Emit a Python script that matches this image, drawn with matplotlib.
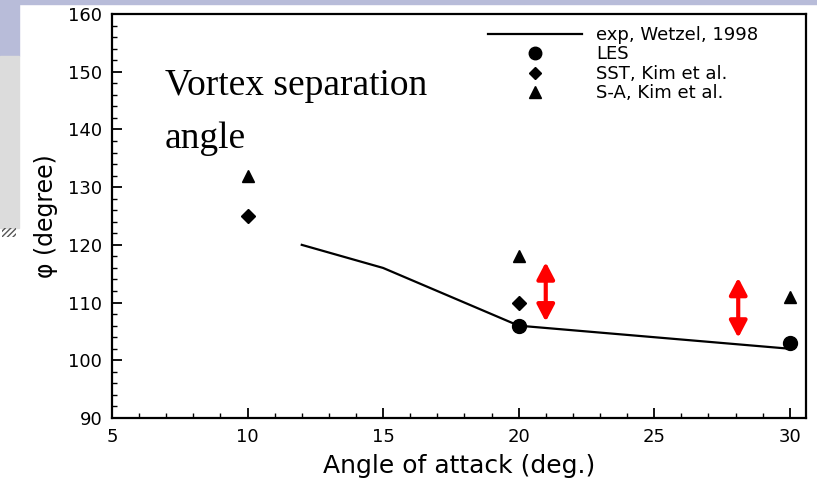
import matplotlib.pyplot as plt
from matplotlib.patches import Rectangle
from matplotlib.lines import Line2D
from matplotlib.ticker import MultipleLocator

# data
exp_aoa = [12, 15, 20, 30]
exp_phi = [120, 116, 106, 102]
les_aoa = [20, 30]
les_phi = [106, 103]
sst_aoa = [10, 20]
sst_phi = [125, 110]
sa_aoa = [10, 20, 30]
sa_phi = [132, 118, 111]
# red double arrows: x position, lower end, upper end
arrow_x = [21, 28.1]
arrow_lo = [106.7, 103.9]
arrow_hi = [117, 114.3]

W, H = 817, 480
fig = plt.figure(figsize=(W / 100, H / 100), dpi=100)
fig.patch.set_facecolor('white')

# slide background pieces around the chart
lav = '#b8bcd9'
fig.patches.append(Rectangle((0, 1 - 4 / H), 1, 4 / H, transform=fig.transFigure,
                             color=lav, zorder=0))
fig.patches.append(Rectangle((0, 1 - 56 / H), 19 / W, 56 / H, transform=fig.transFigure,
                             color=lav, zorder=0))
fig.patches.append(Rectangle((0, 1 - 228 / H), 19 / W, 172 / H, transform=fig.transFigure,
                             color='#dcdcdc', zorder=0))
fig.patches.append(Rectangle((2 / W, 1 - 237 / H), 14 / W, 9 / H, transform=fig.transFigure,
                             facecolor='none', edgecolor='#555555', hatch='//////',
                             lw=0, zorder=0))

ax = fig.add_axes([112 / W, 1 - 418 / H, (806 - 112) / W, (418 - 14) / H])

sans = 'DejaVu Sans'
ax.plot(exp_aoa, exp_phi, color='black', lw=1.6)
ax.plot(les_aoa, les_phi, 'o', color='black', ms=10, ls='none')
ax.plot(sst_aoa, sst_phi, 'D', color='black', ms=7.5, ls='none')
ax.plot(sa_aoa, sa_phi, '^', color='black', ms=9, ls='none')

for x, lo, hi in zip(arrow_x, arrow_lo, arrow_hi):
    ax.annotate('', xy=(x, hi), xytext=(x, lo),
                arrowprops=dict(arrowstyle='<|-|>,head_length=0.42,head_width=0.22',
                                color='red', lw=3.0, mutation_scale=24,
                                shrinkA=0, shrinkB=0))

ax.set_xlim(5, 30.6)
ax.set_ylim(90, 160)
ax.xaxis.set_major_locator(MultipleLocator(5))
ax.xaxis.set_minor_locator(MultipleLocator(1))
ax.yaxis.set_major_locator(MultipleLocator(10))
ax.yaxis.set_minor_locator(MultipleLocator(2))
ax.tick_params(which='both', direction='in', top=False, right=False)
ax.tick_params(which='major', length=7, width=1.3, labelsize=13, pad=7)
ax.tick_params(which='minor', length=3.5, width=1.0)
for sp in ax.spines.values():
    sp.set_linewidth(1.6)

ax.set_xlabel('Angle of attack (deg.)', fontsize=18, family=sans, labelpad=6)
ax.set_ylabel('\u03c6 (degree)', fontsize=17, family=sans, labelpad=7)

fig.text(165 / W, 1 - 95 / H, 'Vortex separation', family='Liberation Serif',
         fontsize=27, va='baseline')
fig.text(165 / W, 1 - 148 / H, 'angle', family='Liberation Serif',
         fontsize=27, va='baseline')

handles = [Line2D([], [], color='black', lw=1.6),
           Line2D([], [], marker='o', color='black', ls='none', ms=9),
           Line2D([], [], marker='D', color='black', ls='none', ms=6.5),
           Line2D([], [], marker='^', color='black', ls='none', ms=8)]
labels = ['exp, Wetzel, 1998', 'LES', 'SST, Kim et al.', 'S-A, Kim et al.']
ax.legend(handles, labels, loc='upper left', bbox_to_anchor=(488 / W, 1 - 26 / H),
          bbox_transform=fig.transFigure, frameon=False, handlelength=5.2,
          handletextpad=0.8, labelspacing=0.08, borderpad=0, borderaxespad=0,
          prop={'family': sans, 'size': 13})

fig.savefig('out.png', dpi=100)
